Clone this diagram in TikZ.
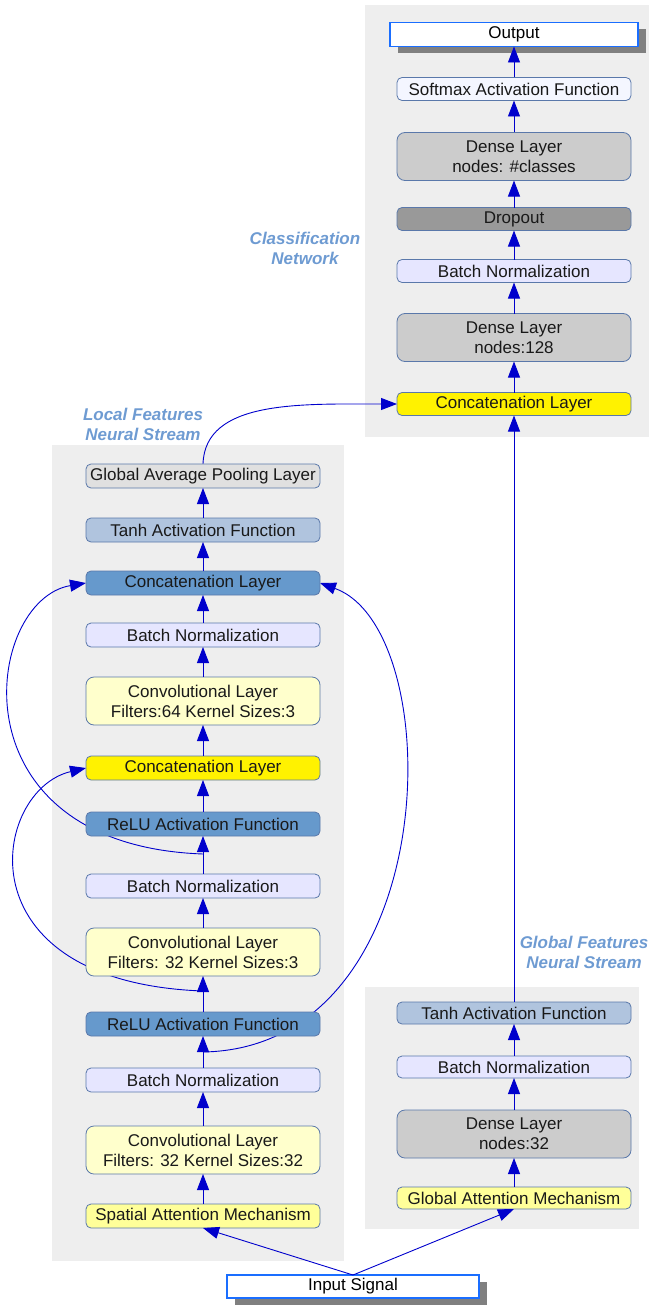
\documentclass[tikz,border=0pt]{standalone}
\usepackage{fontspec}
\setmainfont{Liberation Sans}
\usepackage{xcolor}
\usepackage{tikz}
\usetikzlibrary{shapes,arrows.meta,positioning,calc,shadows}

\definecolor{linkblue}{RGB}{0,0,204}
\definecolor{panelgray}{RGB}{238,238,238}
\definecolor{edgeblue}{RGB}{90,120,170}
\definecolor{frameblue}{RGB}{26,110,255}
\definecolor{concblue}{RGB}{102,153,204}
\definecolor{tanhblue}{RGB}{176,196,222}
\definecolor{normlav}{RGB}{230,230,255}
\definecolor{convyellow}{RGB}{255,255,204}
\definecolor{attnyellow}{RGB}{255,255,153}
\definecolor{densegray}{RGB}{204,204,204}
\definecolor{dropgray}{RGB}{153,153,153}
\definecolor{poolgray}{RGB}{224,224,224}
\definecolor{softwhite}{RGB}{244,246,255}
\definecolor{titleblue}{RGB}{110,155,210}
\definecolor{shadowgray}{RGB}{128,128,128}

\pgfdeclarelayer{panels}
\pgfdeclarelayer{links}
\pgfsetlayers{panels,links,main}

\begin{document}
\begin{tikzpicture}[
            x=1pt, y=-1pt,
            font=\fontsize{17}{20}\selectfont,
            layer/.style={draw=edgeblue, line width=0.8pt, outer sep=0pt, rounded corners=5pt, minimum width=234pt, minimum height=24pt, inner sep=0pt, align=center, text=black!90},
            twolayer/.style={layer, minimum height=48pt, rounded corners=8pt},
            io/.style={draw=frameblue, line width=1.4pt, outer sep=0pt, fill=white, minimum height=23pt, inner sep=0pt, drop shadow={shadow xshift=8pt, shadow yshift=-7pt, fill=shadowgray, opacity=1}},
            flow/.style={draw=linkblue, line width=0.9pt, -{Triangle[length=16pt,width=12pt]}},
            title/.style={text=titleblue, font=\fontsize{17}{20}\selectfont\bfseries\itshape, align=center}
        ]
            \useasboundingbox (0,0) rectangle (649,1308);

            % classification network
            \node[layer, fill=yellow, minimum height=23pt] (concR) at (514,404) {Concatenation Layer};
            \node[twolayer, fill=densegray, above=31pt of concR] (dense128) {Dense Layer\\nodes:128};
            \node[layer, fill=normlav, minimum height=23pt, above=31pt of dense128] (normR) {Batch Normalization};
            \node[layer, fill=dropgray, minimum height=23pt, above=29pt of normR] (drop) {Dropout};
            \node[twolayer, fill=densegray, above=27pt of drop] (denseC) {Dense Layer\\nodes: \#classes};
            \node[layer, fill=softwhite, minimum height=23pt, above=32pt of denseC] (soft) {Softmax Activation Function};
            \node[io, minimum width=248pt, minimum height=24pt, above=31pt of soft] (out) {Output};

            % local features stream
            \node[layer, fill=attnyellow] (spatial) at (203,1216) {Spatial Attention Mechanism};
            \node[twolayer, fill=convyellow, above=30pt of spatial] (conv1) {Convolutional Layer\\Filters: 32 Kernel Sizes:32};
            \node[layer, fill=normlav, above=34pt of conv1] (norm1) {Batch Normalization};
            \node[layer, fill=concblue, above=32pt of norm1] (relu1) {ReLU Activation Function};
            \node[twolayer, fill=convyellow, above=36pt of relu1] (conv2) {Convolutional Layer\\Filters: 32 Kernel Sizes:3};
            \node[layer, fill=normlav, above=30pt of conv2] (norm2) {Batch Normalization};
            \node[layer, fill=concblue, above=38pt of norm2] (relu2) {ReLU Activation Function};
            \node[layer, fill=yellow, above=32pt of relu2] (concA) {Concatenation Layer};
            \node[twolayer, fill=convyellow, above=31pt of concA] (conv3) {Convolutional Layer\\Filters:64 Kernel Sizes:3};
            \node[layer, fill=normlav, above=30pt of conv3] (norm3) {Batch Normalization};
            \node[layer, fill=concblue, above=28pt of norm3] (concB) {Concatenation Layer};
            \node[layer, fill=tanhblue, above=29pt of concB] (tanhL) {Tanh Activation Function};
            \node[layer, fill=poolgray, above=30pt of tanhL] (pool) {Global Average Pooling Layer};

            % global features stream
            \node[layer, fill=attnyellow, minimum height=22pt] (gattn) at (514,1198) {Global Attention Mechanism};
            \node[twolayer, fill=densegray, above=29pt of gattn] (dense32) {Dense Layer\\nodes:32};
            \node[layer, fill=normlav, minimum height=22pt, above=32pt of dense32] (normG) {Batch Normalization};
            \node[layer, fill=tanhblue, minimum height=22pt, above=32pt of normG] (tanhG) {Tanh Activation Function};

            \node[io, minimum width=252pt] (input) at (353,1286.5) {Input Signal};

            \node[title] (clstitle) at (305,248) {Classification\\Network};
            \node[title] (loctitle) at (143,424) {Local Features\\Neural Stream};
            \node[title] (glotitle) at (584,952) {Global Features\\Neural Stream};

            \foreach \a/\b in {concR/dense128, dense128/normR, normR/drop, drop/denseC, denseC/soft, soft/out,
                               spatial/conv1, conv1/norm1, norm1/relu1, relu1/conv2, conv2/norm2, norm2/relu2,
                               relu2/concA, concA/conv3, conv3/norm3, norm3/concB, concB/tanhL, tanhL/pool,
                               gattn/dense32, dense32/normG, normG/tanhG, tanhG/concR}
                \draw[flow] (\a.north) -- (\b.south);

            \draw[flow] (input.north) -- (spatial.south);
            \draw[flow] (input.north) -- (gattn.south);

            % skip connections run behind the boxes
            \begin{pgfonlayer}{links}
                \coordinate (skipA) at ($(relu1.south)+(0,16)$);
                \coordinate (skipB) at ($(conv2.south)+(0,15)$);
                \coordinate (skipC) at ($(relu2.south)+(0,18)$);
                \draw[flow] (skipA) .. controls (445,1048) and (450,630) .. (concB.east);
                \draw[flow] (skipB) .. controls (-42,982) and (-8,790) .. (concA.west);
                \draw[flow] (skipC) .. controls (-50,845) and (-16,600) .. (concB.west);
                \draw[flow] (pool.north) .. controls (205,400) and (300,404) .. (concR.west);
            \end{pgfonlayer}

            \begin{pgfonlayer}{panels}
                \fill[panelgray] (365,5) rectangle (649,437);
                \fill[panelgray] (52,445) rectangle (344,1261);
                \fill[panelgray] (365,987) rectangle (639,1229);
            \end{pgfonlayer}
        \end{tikzpicture}
\end{document}
